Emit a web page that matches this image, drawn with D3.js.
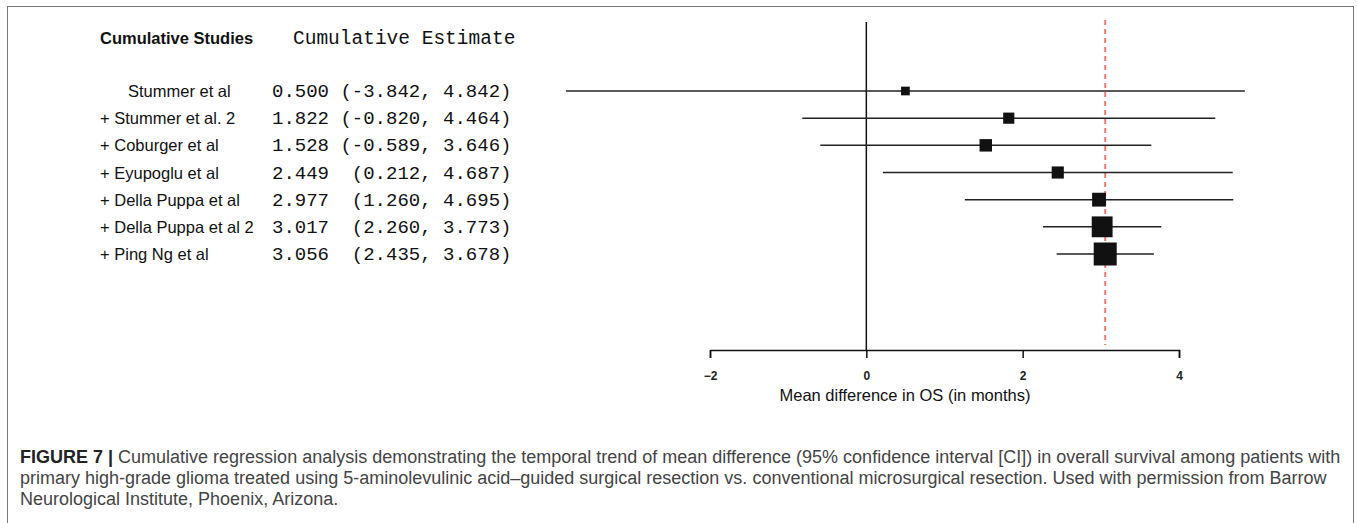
<!DOCTYPE html>
<html>
<head>
<meta charset="utf-8">
<script src="https://cdn.jsdelivr.net/npm/d3@7"></script>
<style>
  body { margin: 0; background: #fff; }
  svg { display: block; }
  .pre { white-space: pre; }
</style>
</head>
<body>
<div id="chart"></div>
<script>
const studies = [
  "Stummer et al",
  "+ Stummer et al. 2",
  "+ Coburger et al",
  "+ Eyupoglu et al",
  "+ Della Puppa et al",
  "+ Della Puppa et al 2",
  "+ Ping Ng et al"
];
const estimates = [0.500, 1.822, 1.528, 2.449, 2.977, 3.017, 3.056];
const lower = [-3.842, -0.820, -0.589, 0.212, 1.260, 2.260, 2.435];
const upper = [4.842, 4.464, 3.646, 4.687, 4.695, 3.773, 3.678];
const xTicks = [-2, 0, 2, 4];
const caption = [
  "Cumulative regression analysis demonstrating the temporal trend of mean difference (95% confidence interval [CI]) in overall survival among patients with",
  "primary high-grade glioma treated using 5-aminolevulinic acid\u2013guided surgical resection vs. conventional microsurgical resection. Used with permission from Barrow",
  "Neurological Institute, Phoenix, Arizona."
];

const W = 1357, H = 523;
const svg = d3.select("#chart").append("svg")
  .attr("width", W)
  .attr("height", H);

// frame
svg.append("rect")
  .attr("x", 7.5).attr("y", 6.5)
  .attr("width", 1346).attr("height", 540)
  .attr("fill", "none")
  .attr("stroke", "#777")
  .attr("stroke-width", 1);

const x = d3.scaleLinear().domain([-2, 4]).range([710, 1179]);
const y = d3.scalePoint().domain(studies).range([91, 254]);

const rows = studies.map((s, i) => ({
  study: s, est: estimates[i], lo: lower[i], hi: upper[i]
}));
const size = d3.scaleSqrt()
  .domain([0, d3.max(rows, d => 1 / (d.hi - d.lo))])
  .range([0, 23]);

const sans = "'Liberation Sans', Arial, Helvetica, sans-serif";
const mono = "'Liberation Mono', 'Courier New', monospace";

// column headers
svg.append("text")
  .attr("x", 100).attr("y", 44)
  .attr("font-family", sans).attr("font-size", 16.5).attr("font-weight", "bold")
  .attr("fill", "#111")
  .text("Cumulative Studies");
svg.append("text")
  .attr("x", 293).attr("y", 44)
  .attr("font-family", mono).attr("font-size", 19.5)
  .attr("fill", "#111")
  .text("Cumulative Estimate");

// study labels
svg.append("g").selectAll("text")
  .data(rows).join("text")
  .attr("x", d => d.study.startsWith("+") ? 100 : 128)
  .attr("y", d => y(d.study) + 6)
  .attr("font-family", sans).attr("font-size", 16.5)
  .attr("fill", "#111")
  .text(d => d.study);

// estimate text
const fmt = d => d.est.toFixed(3) + " " + ("(" + d.lo.toFixed(3)).padStart(7) + ", " + d.hi.toFixed(3) + ")";
svg.append("g").selectAll("text")
  .data(rows).join("text")
  .attr("class", "pre")
  .attr("x", 272)
  .attr("y", d => y(d.study) + 6)
  .attr("font-family", mono).attr("font-size", 19)
  .attr("fill", "#111")
  .text(fmt);

// zero line
svg.append("line")
  .attr("x1", x(0)).attr("x2", x(0))
  .attr("y1", 22).attr("y2", 350)
  .attr("stroke", "#111").attr("stroke-width", 1.5);

// pooled estimate reference line
const pooled = estimates[estimates.length - 1];
svg.append("line")
  .attr("x1", x(pooled)).attr("x2", x(pooled))
  .attr("y1", 20).attr("y2", 345)
  .attr("stroke", "#f47a6e").attr("stroke-width", 2)
  .attr("stroke-dasharray", "5,4");

// CI lines
svg.append("g").selectAll("line")
  .data(rows).join("line")
  .attr("x1", d => x(d.lo)).attr("x2", d => x(d.hi))
  .attr("y1", d => y(d.study)).attr("y2", d => y(d.study))
  .attr("stroke", "#222").attr("stroke-width", 1.5);

// boxes
svg.append("g").selectAll("rect")
  .data(rows).join("rect")
  .attr("x", d => x(d.est) - size(1 / (d.hi - d.lo)) / 2)
  .attr("y", d => y(d.study) - size(1 / (d.hi - d.lo)) / 2)
  .attr("width", d => size(1 / (d.hi - d.lo)))
  .attr("height", d => size(1 / (d.hi - d.lo)))
  .attr("fill", "#111");

// axis
const axis = svg.append("g")
  .attr("transform", "translate(0,350)")
  .call(d3.axisBottom(x).tickValues(xTicks).tickSize(8).tickSizeOuter(8).tickPadding(13)
    .tickFormat(d => d < 0 ? "\u2212" + Math.abs(d) : d));
axis.select(".domain").attr("stroke", "#111").attr("stroke-width", 1.5);
axis.selectAll(".tick line").attr("stroke", "#111").attr("stroke-width", 1.5);
axis.selectAll(".tick text")
  .attr("font-family", sans).attr("font-size", 12).attr("font-weight", "bold")
  .attr("fill", "#222");

svg.append("text")
  .attr("x", 905).attr("y", 401)
  .attr("text-anchor", "middle")
  .attr("font-family", sans).attr("font-size", 16.5)
  .attr("fill", "#111")
  .text("Mean difference in OS (in months)");

// caption
const cap = svg.append("g")
  .attr("font-family", sans).attr("font-size", 18).attr("fill", "#444");
caption.forEach((line, i) => {
  const t = cap.append("text").attr("x", 20).attr("y", 463 + i * 21);
  if (i === 0) {
    t.append("tspan").attr("font-weight", "bold").attr("fill", "#222").text("FIGURE 7 | ");
  }
  t.append("tspan").text(line);
});
</script>
</body>
</html>
